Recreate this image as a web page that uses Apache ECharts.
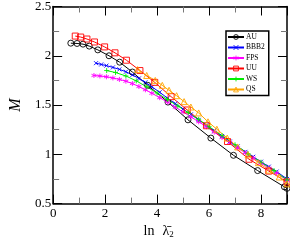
<!DOCTYPE html>
<html><head><meta charset="utf-8">
<script src="https://cdn.jsdelivr.net/npm/echarts@6/dist/echarts.min.js"></script>
<style>html,body{margin:0;padding:0;background:#fff}#c{width:290px;height:244px}</style>
</head><body><div id="c"></div>
<script>
var xTicks = [0, 2, 4, 6, 8];
var yTicks = [0.5, 1, 1.5, 2, 2.5];
var names = ['AU', 'BBB2', 'FPS', 'UU', 'WS', 'QS'];
var auData = [[0.68,2.128],[0.92,2.125],[1.15,2.118],[1.39,2.098],[1.72,2.06],[2.15,2.0],[2.56,1.935],[3.05,1.835],[3.64,1.70],[4.42,1.53],[5.19,1.35],[6.07,1.165],[6.94,0.99],[7.87,0.835],[8.9,0.67],[9.0,0.655]];
var bbb2Data = [[1.65,1.925],[1.85,1.912],[2.05,1.9],[2.3,1.882],[2.55,1.862],[2.8,1.838],[3.05,1.806],[3.3,1.77],[3.55,1.73],[3.8,1.685],[4.1,1.63],[4.4,1.57],[4.7,1.515],[5.0,1.46],[5.3,1.405],[5.6,1.35],[5.9,1.295],[6.2,1.24],[6.5,1.185],[6.8,1.13],[7.1,1.08],[7.4,1.025],[7.7,0.975],[8.0,0.925],[8.3,0.875],[8.6,0.825],[9.0,0.75]];
var fpsData = [[1.57,1.80],[1.8,1.795],[2.05,1.787],[2.3,1.775],[2.55,1.76],[2.8,1.742],[3.05,1.718],[3.3,1.688],[3.55,1.655],[3.8,1.62],[4.1,1.575],[4.4,1.53],[4.7,1.478],[5.0,1.43],[5.3,1.38],[5.6,1.33],[5.9,1.28],[6.2,1.225],[6.5,1.17],[6.8,1.12],[7.1,1.065],[7.4,1.015],[7.7,0.962],[8.0,0.91],[8.3,0.86],[8.6,0.81],[9.0,0.735]];
var uuData = [[0.85,2.20],[1.06,2.19],[1.30,2.17],[1.59,2.14],[1.98,2.09],[2.38,2.03],[2.82,1.955],[3.34,1.85],[3.91,1.73],[4.54,1.585],[5.16,1.45],[5.9,1.29],[6.71,1.13],[7.54,0.95],[8.3,0.83],[9.0,0.72]];
var wsData = [[2.06,1.85],[2.4,1.83],[2.8,1.795],[3.2,1.745],[3.6,1.685],[4.0,1.622],[4.4,1.556],[4.8,1.49],[5.2,1.423],[5.6,1.355],[6.0,1.28],[6.5,1.19],[7.0,1.097],[7.5,1.007],[8.0,0.92],[8.5,0.835],[9.0,0.74]];
var qsData = [[3.25,1.86],[3.6,1.80],[3.93,1.75],[4.2,1.70],[4.46,1.65],[4.75,1.595],[5.04,1.535],[5.3,1.48],[5.6,1.42],[5.96,1.33],[6.3,1.255],[6.7,1.165],[7.1,1.075],[7.5,0.995],[7.9,0.915],[8.3,0.84],[8.7,0.77],[9.0,0.70]];

var serif = '"Liberation Serif","DejaVu Serif",serif';
var xSym = 'path://M0,0L10,10M10,0L0,10';
var plusSym = 'path://M5,0L5,10M0,5L10,5';
var starSym = 'path://M5,0L5,10M0.7,2.5L9.3,7.5M0.7,7.5L9.3,2.5';
var clear = 'rgba(255,255,255,0)';

function mk(name, data, color, symbol, size) {
  return {
    name: name, type: 'line', data: data, symbol: symbol, symbolSize: size,
    showAllSymbol: true,
    lineStyle: {color: color, width: 1},
    itemStyle: {color: clear, borderColor: color, borderWidth: 0.9},
    emphasis: {disabled: true}, animation: false
  };
}
var colors = {AU: '#000000', BBB2: '#0000ff', FPS: '#ff00ff', UU: '#ff0000', WS: '#00ee00', QS: '#ffa500'};
var legendData = names.map(function (n) {
  return {name: n, itemStyle: {color: clear, borderColor: colors[n], borderWidth: 0.9}};
});

var chart = echarts.init(document.getElementById('c'), null, {renderer: 'canvas'});
var axisCommon = {
  type: 'value',
  axisLine: {show: true, onZero: false, lineStyle: {color: '#000', width: 1.5}},
  splitLine: {show: false},
  axisTick: {show: true, inside: true, length: 9, lineStyle: {color: '#000', width: 1}},
  minorTick: {show: true, splitNumber: 2, length: 6, lineStyle: {color: '#777', width: 1}}
};
chart.setOption({
  animation: false,
  grid: {left: 33, right: 1, top: 5, bottom: 35},
  legend: {
    show: true, orient: 'vertical', left: 226, top: 31,
    backgroundColor: '#fff', borderColor: '#000', borderWidth: 1.5,
    padding: [2, 4, 2, 1], itemGap: 2.5, itemWidth: 16, itemHeight: 6,
    itemStyle: {color: clear, borderWidth: 0.9},
    textStyle: {fontFamily: serif, fontSize: 7.5, color: '#000', padding: [0, 0, 0, -3]},
    data: legendData
  },
  xAxis: [
    Object.assign({}, axisCommon, {
      min: 0, max: 9, interval: 2, position: 'bottom',
      axisLabel: {show: true, fontFamily: serif, fontSize: 13, color: '#000', margin: 3,
        formatter: function (v) { return xTicks.indexOf(v) >= 0 ? String(v) : ''; }},
      name: '{a|ln}{s|}{b|λ̄}{c|2}{t|}', nameLocation: 'middle', nameGap: 18,
      nameTextStyle: {rich: {
        a: {fontFamily: serif, fontSize: 14, color: '#000'},
        s: {width: 8},
        t: {width: 23},
        b: {fontFamily: serif, fontSize: 14, color: '#000'},
        c: {fontFamily: serif, fontSize: 9, color: '#000', verticalAlign: 'bottom', padding: [6, 0, 0, 0]}
      }}
    }),
    Object.assign({}, axisCommon, {
      min: 0, max: 9, interval: 2, position: 'top', axisLabel: {show: false}
    })
  ],
  yAxis: [
    Object.assign({}, axisCommon, {
      min: 0.5, max: 2.5, interval: 0.5, position: 'left',
      axisLabel: {show: true, fontFamily: serif, fontSize: 13, color: '#000', margin: 2,
        formatter: function (v) { return yTicks.indexOf(v) >= 0 ? String(v) : ''; }},
      name: 'M', nameLocation: 'middle', nameGap: 26,
      nameTextStyle: {fontFamily: serif, fontSize: 16, fontStyle: 'italic', color: '#000'}
    }),
    Object.assign({}, axisCommon, {
      min: 0.5, max: 2.5, interval: 0.5, position: 'right', axisLabel: {show: false}
    })
  ],
  series: [
    mk('AU', auData, colors.AU, 'circle', 6),
    mk('BBB2', bbb2Data, colors.BBB2, xSym, 4),
    mk('FPS', fpsData, colors.FPS, starSym, 5),
    mk('UU', uuData, colors.UU, 'rect', 6),
    mk('WS', wsData, colors.WS, plusSym, 5),
    mk('QS', qsData, colors.QS, 'triangle', 6)
  ]
});
</script></body></html>
